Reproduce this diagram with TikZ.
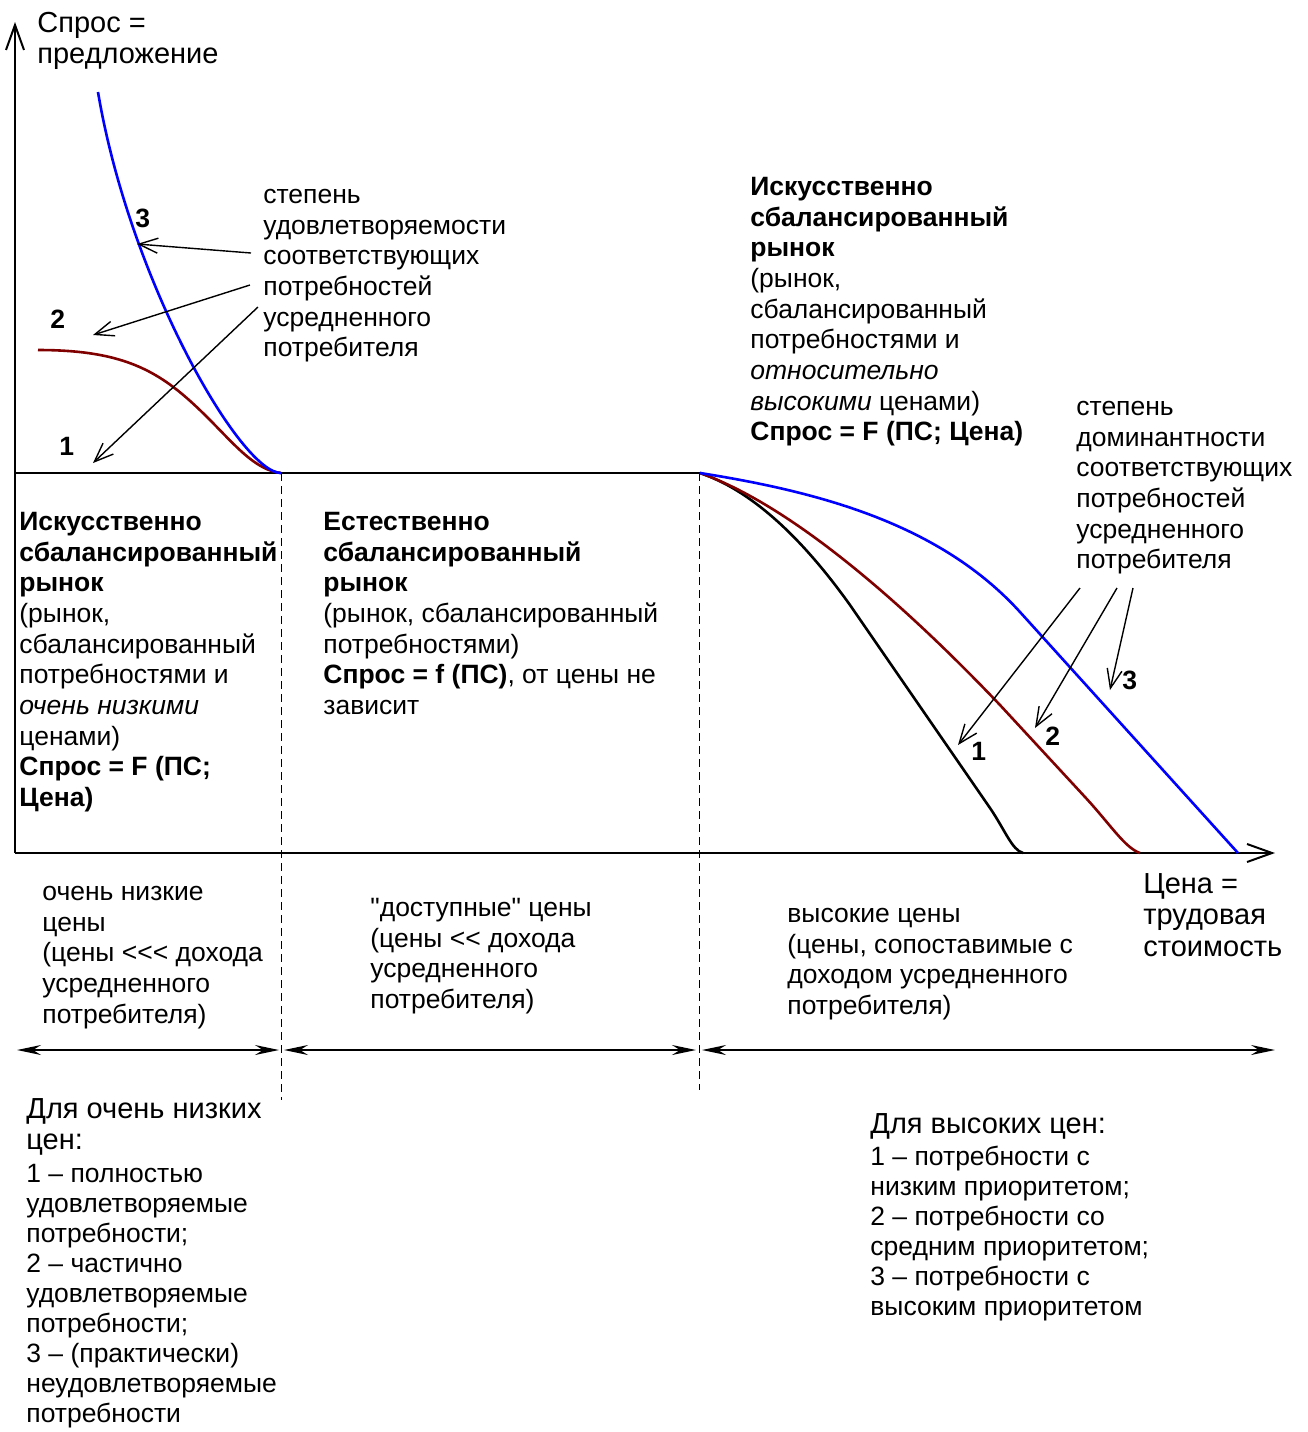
\documentclass[tikz,border=0pt]{standalone}
\usepackage{fontspec}
\setmainfont{Liberation Sans}[Ligatures=TeXOff]
\usetikzlibrary{arrows.meta}
\definecolor{curveblue}{RGB}{0,0,255}
\definecolor{curvered}{RGB}{128,0,0}
\newcommand\txtsize{\fontsize{13.25}{15.33}\selectfont}
\newcommand\keysize{\fontsize{13.25}{15}\selectfont}
\newcommand\bigsize{\fontsize{14.5}{15.75}\selectfont}
\begin{document}
\begin{tikzpicture}[x=0.5pt,y=-0.5pt,
    block/.style={anchor=north west,inner sep=0pt,align=left},
    txt/.style={block,font=\txtsize,yshift=10.73pt},
    keytxt/.style={block,font=\keysize,yshift=10.5pt},
    bigtxt/.style={block,font=\bigsize,yshift=11.03pt},
    num/.style={anchor=base west,inner sep=0pt,font=\txtsize\bfseries},
    axis/.style={line width=1pt,-{Straight Barb[length=12.5pt,width=9pt]}},
    hint/.style={line width=0.7pt,-{Straight Barb[length=9.5pt,width=7.5pt]}},
    span/.style={line width=0.7pt,{Stealth[length=12pt,width=5pt,inset=4pt]}-{Stealth[length=12pt,width=5pt,inset=4pt]}},
    border/.style={line width=0.5pt,dash pattern=on 4pt off 2.5pt},
    curve/.style={line width=1.3pt}]
  \useasboundingbox (0,0) rectangle (1308,1432);
  % axes
  \coordinate (O) at (15,853);
  \coordinate (ytop) at (15,22);
  \coordinate (xend) at (1275,853);
  \draw[axis] (O) -- (ytop);
  \draw[axis] (O) -- (xend);
  \node[bigtxt] (demand) at (37,32) {\strut Спрос =\\предложение};
  \node[bigtxt] (price) at (1143,893) {\strut Цена =\\трудовая\\стоимость};
  % zone borders
  \coordinate (sat) at (15,473);
  \coordinate (lowB) at (281,473);
  \coordinate (highB) at (700,473);
  \coordinate (lowBend) at (281,1100);
  \coordinate (highBend) at (699,1090);
  \draw[border] (lowB) -- (lowBend);
  \draw[border] ([xshift=-0.5pt]highB) -- (highBend);
  % curves
  \draw[curve] (sat) -- (highB);
  \draw[curve,curvered] (38,350) .. controls (128,350) and (163,373) .. (208,418)
    .. controls (235,445) and (255,470) .. (lowB);
  \draw[curve,curveblue] (98,92) .. controls (130,282) and (241,473) .. (lowB);
  \draw[curve] (highB) .. controls (750,490) and (800,535) .. (850,605) -- (990,808)
    .. controls (1005,830) and (1012,850) .. (1023,853);
  \draw[curve,curvered] (highB) .. controls (790,505) and (900,600) .. (1000,705) -- (1085,797)
    .. controls (1110,824) and (1125,848) .. (1140,853);
  \draw[curve,curveblue] (highB) .. controls (820,492) and (940,524) .. (1020,612) -- (1238,853);
  % low prices
  \node[txt] (degLow) at (263,203) {\strut степень\\удовлетворяемости\\соответствующих\\потребностей\\усредненного\\потребителя};
  \node[num] (n3L) at (135,227) {3};
  \node[num] (n2L) at (50,328) {2};
  \node[num] (n1L) at (59,455) {1};
  \coordinate (from3L) at (251,253);
  \coordinate (to3L) at (137,244);
  \coordinate (from2L) at (250,285);
  \coordinate (to2L) at (93,335);
  \coordinate (from1L) at (258,307);
  \coordinate (to1L) at (93,463);
  \draw[hint] (from3L) -- (to3L);
  \draw[hint] (from2L) -- (to2L);
  \draw[hint] (from1L) -- (to1L);
  \node[txt] (marketLow) at (19,530) {\strut\textbf{Искусственно}\\\textbf{сбалансированный}\\\textbf{рынок}\\(рынок,\\сбалансированный\\потребностями и\\\textit{очень низкими}\\ценами)\\\textbf{Спрос = F (ПС;}\\\textbf{Цена)}};
  \node[txt] (marketMid) at (323,530) {\strut\textbf{Естественно}\\\textbf{сбалансированный}\\\textbf{рынок}\\(рынок, сбалансированный\\потребностями)\\\textbf{Спрос = f (ПС)}, от цены не\\зависит};
  % high prices
  \node[txt] (marketHigh) at (750,195) {\strut\textbf{Искусственно}\\\textbf{сбалансированный}\\\textbf{рынок}\\(рынок,\\сбалансированный\\потребностями и\\\textit{относительно}\\\textit{высокими} ценами)\\\textbf{Спрос = F (ПС; Цена)}};
  \node[txt] (degHigh) at (1076,415) {\strut степень\\доминантности\\соответствующих\\потребностей\\усредненного\\потребителя};
  \node[num] (n1H) at (971,760) {1};
  \node[num] (n2H) at (1045,745) {2};
  \node[num] (n3H) at (1122,689) {3};
  \coordinate (from1H) at (1080,588);
  \coordinate (to1H) at (958,745);
  \coordinate (from2H) at (1117,588);
  \coordinate (to2H) at (1035,728);
  \coordinate (from3H) at (1133,588);
  \coordinate (to3H) at (1110,690);
  \draw[hint] (from1H) -- (to1H);
  \draw[hint] (from2H) -- (to2H);
  \draw[hint] (from3H) -- (to3H);
  % price ranges
  \node[txt] (rangeLow) at (42,900) {\strut очень низкие\\цены\\(цены <<< дохода\\усредненного\\потребителя)};
  \node[txt] (rangeMid) at (370,916) {\strut "доступные" цены\\(цены << дохода\\усредненного\\потребителя)};
  \node[txt] (rangeHigh) at (787,922) {\strut высокие цены\\(цены, сопоставимые с\\доходом усредненного\\потребителя)};
  \coordinate (s0) at (17,1050);
  \coordinate (s1) at (279,1050);
  \coordinate (s2) at (284,1050);
  \coordinate (s3) at (696,1050);
  \coordinate (s4) at (702,1050);
  \coordinate (s5) at (1275,1050);
  \draw[span] (s0) -- (s1);
  \draw[span] (s2) -- (s3);
  \draw[span] (s4) -- (s5);
  % keys
  \node[bigtxt] (keyLowHead) at (26,1118) {\strut Для очень низких\\цен:};
  \node[keytxt] (keyLow) at (26,1182) {\strut 1 – полностью\\удовлетворяемые\\потребности;\\2 – частично\\удовлетворяемые\\потребности;\\3 – (практически)\\неудовлетворяемые\\потребности};
  \node[bigtxt] (keyHighHead) at (870,1133) {\strut Для высоких цен:};
  \node[keytxt] (keyHigh) at (870,1165) {\strut 1 – потребности с\\низким приоритетом;\\2 – потребности со\\средним приоритетом;\\3 – потребности с\\высоким приоритетом};
\end{tikzpicture}
\end{document}
